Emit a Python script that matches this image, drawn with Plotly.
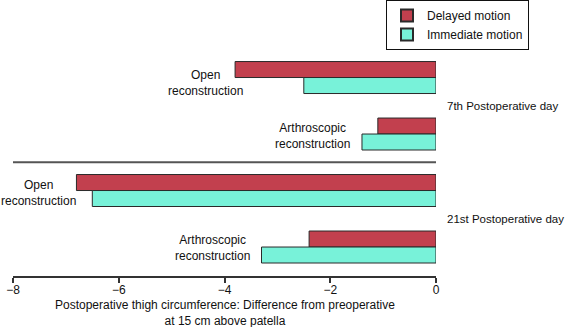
import plotly.graph_objects as go

# Change in thigh circumference (cm) at 15 cm above the patella
groups = ["7th Postoperative day", "21st Postoperative day"]
procedures = ["Open<br>reconstruction", "Arthroscopic<br>reconstruction"]
delayed = [-3.8, -1.1, -6.8, -2.4]     # 7th open, 7th arthro, 21st open, 21st arthro
immediate = [-2.5, -1.4, -6.5, -3.3]

RED = "#C2404E"
CYAN = "#78F2D9"
EDGE = "#2a2a2a"
FONT = "Liberation Sans, Arial, sans-serif"

# one slot per (day, procedure), listed top to bottom
n = len(delayed)
pos = [n - 1 - i for i in range(n)]
bw = 0.283

fig = go.Figure()
fig.add_trace(go.Bar(
    name="Delayed motion", orientation="h", x=delayed, y=pos,
    width=bw, offset=0, marker=dict(color=RED, line=dict(color=EDGE, width=1)),
))
fig.add_trace(go.Bar(
    name="Immediate motion", orientation="h", x=immediate, y=pos,
    width=bw, offset=-bw, marker=dict(color=CYAN, line=dict(color=EDGE, width=1)),
))

# procedure labels, placed to the left of each bar pair
label_place = [(-4.35, 2.90), (-2.33, 1.96), (-7.51, 0.95), (-4.23, -0.02)]
annotations = []
for i, (lx, ly) in enumerate(label_place):
    annotations.append(dict(
        x=lx, y=ly, xref="x", yref="y", text=procedures[i % 2],
        showarrow=False, align="center", xanchor="center", yanchor="middle",
        font=dict(size=12, color="#111", family=FONT),
    ))

# day labels to the right of the zero line
for g, gy in zip(groups, [2.5, 0.5]):
    annotations.append(dict(
        x=0, y=gy, xref="x", yref="y", text=g, showarrow=False,
        xanchor="left", yanchor="middle", xshift=9,
        font=dict(size=11.5, color="#111", family=FONT),
    ))

annotations.append(dict(
    x=0.5, y=-0.163, xref="paper", yref="paper",
    text="Postoperative thigh circumference: Difference from preoperative<br>at 15 cm above patella",
    showarrow=False, align="center", xanchor="center", yanchor="middle",
    font=dict(size=12, color="#111", family=FONT),
))

fig.update_layout(
    width=569, height=327,
    margin=dict(l=13, r=133, t=49, b=51, autoexpand=False),
    paper_bgcolor="white", plot_bgcolor="white",
    barmode="overlay",
    font=dict(family=FONT, size=12, color="#111"),
    showlegend=True,
    legend=dict(
        xref="container", yref="container",
        x=386 / 569, y=1.0, xanchor="left", yanchor="top",
        bordercolor="#111", borderwidth=1, bgcolor="white",
        font=dict(size=12, family=FONT, color="#111"),
        tracegroupgap=0, itemsizing="constant",
    ),
    annotations=annotations,
    shapes=[dict(type="line", xref="x", yref="y", x0=-8, x1=0, y0=1.5, y1=1.5,
                 line=dict(color="#555", width=2))],
    xaxis=dict(
        range=[-8, 0], tickvals=[-8, -6, -4, -2, 0],
        showline=True, linecolor="#333", linewidth=1.5,
        ticks="outside", ticklen=5, tickcolor="#333", tickwidth=1.5,
        ticklabelstandoff=-3,
        showgrid=False, zeroline=False,
        tickfont=dict(size=12, family=FONT, color="#111"),
    ),
    yaxis=dict(range=[-0.513, 3.505], visible=False, showgrid=False, zeroline=False),
)

fig.write_html("out.html")
